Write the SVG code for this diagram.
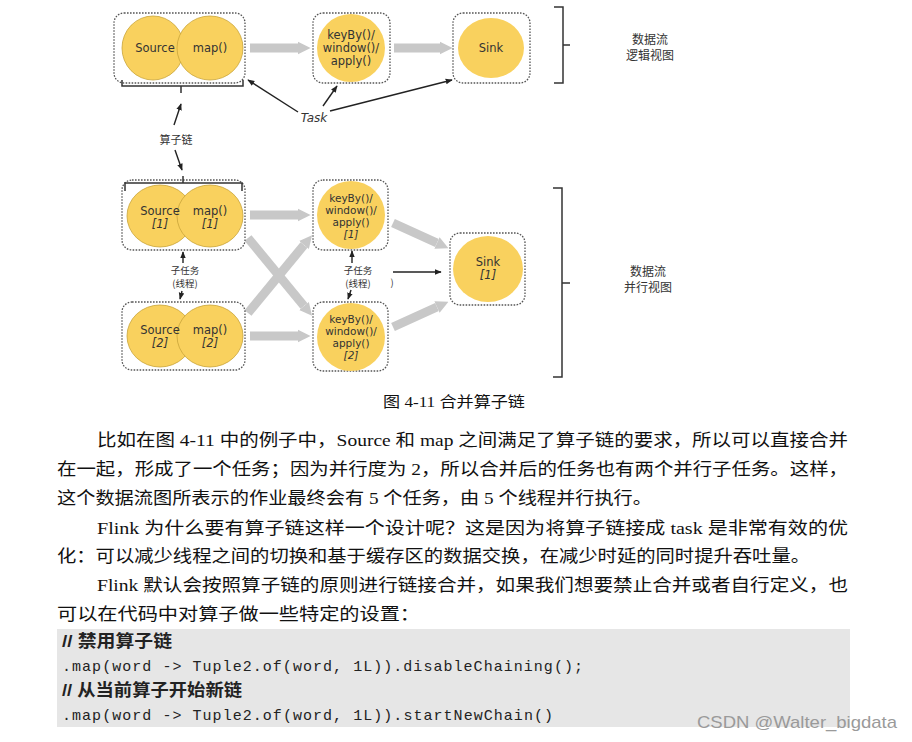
<svg xmlns="http://www.w3.org/2000/svg" width="912" height="742" viewBox="0 0 912 742">
<defs>
<style>
.box{fill:#fff;stroke:#555;stroke-width:1.3;stroke-dasharray:1.6 1.4}
.op{fill:#f9d15e;stroke:#c9a43a;stroke-width:0.8}
.opn{fill:#f9d15e;stroke:none}
.lbl{font-family:"DejaVu Sans",Verdana,sans-serif;font-size:11.5px;fill:#333;text-anchor:middle}
.kb{font-size:10.5px}
.it{font-style:italic}
.flow{stroke:#c8c8c8;stroke-width:9;fill:none;marker-end:url(#ga)}
.thin{stroke:#222;stroke-width:1.4;fill:none;marker-end:url(#ba)}
.br{stroke:#333;stroke-width:1.5;fill:none}
.cn{font-family:"Noto Sans CJK SC",sans-serif;font-size:9.5px;fill:#333;text-anchor:middle}
.side{font-family:"Noto Sans CJK SC",sans-serif;font-size:12px;fill:#333;text-anchor:middle}
.para{font-family:"Liberation Serif","Noto Sans CJK SC",serif;font-size:17.5px;fill:#111}
.code{font-family:"Liberation Mono",monospace;font-size:15px;fill:#222}
.cmt{font-family:"Liberation Sans","Noto Sans CJK SC",sans-serif;font-size:17px;font-weight:600;fill:#222}
</style>
<marker id="ga" viewBox="0 0 10 10" refX="0" refY="5" markerWidth="1.4" markerHeight="2" orient="auto"><path d="M0,0 L10,5 L0,10 z" fill="#c8c8c8"/></marker>
<marker id="ba" viewBox="0 0 10 10" refX="9" refY="5" markerWidth="5" markerHeight="5" orient="auto"><path d="M0,1 L10,5 L0,9 z" fill="#222"/></marker>
</defs>

<g id="connectors">
<line class="flow" x1="250" y1="48" x2="298" y2="48"/>
<line class="flow" x1="394" y1="48" x2="440" y2="48"/>
<line class="flow" x1="250" y1="215" x2="298" y2="215"/>
<line class="flow" x1="250" y1="336" x2="298" y2="336"/>
<line class="flow" x1="248" y1="238" x2="304" y2="306"/>
<line class="flow" x1="248" y1="313" x2="304" y2="245"/>
<line class="flow" x1="393" y1="223" x2="437" y2="243"/>
<line class="flow" x1="393" y1="327" x2="437" y2="307"/>
<line class="thin" x1="298" y1="112" x2="248" y2="80"/>
<line class="thin" x1="323" y1="106" x2="337" y2="86"/>
<line class="thin" x1="330" y1="111" x2="452" y2="80"/>
<line class="thin" x1="174" y1="125" x2="181" y2="104"/>
<line class="thin" x1="175" y1="150" x2="182" y2="170"/>
<line class="thin" x1="183" y1="263" x2="183" y2="252"/>
<line class="thin" x1="182" y1="291" x2="180" y2="299"/>
<line class="thin" x1="352" y1="263" x2="352" y2="251"/>
<line class="thin" x1="351" y1="290" x2="348" y2="299"/>
<line class="thin" x1="393" y1="272" x2="441" y2="272"/>
</g>

<g id="chain-logical">
<rect class="box" x="114" y="13" width="131" height="70" rx="10"/>
<ellipse class="op" cx="153" cy="48" rx="31" ry="32"/>
<ellipse class="op" cx="210" cy="48" rx="33" ry="32"/>
<text class="lbl" x="155" y="52">Source</text>
<text class="lbl" x="210" y="52">map()</text>
<path class="br" d="M122,80 V86 H243 V80 M181,86 V93"/>
</g>

<g id="window-logical">
<rect class="box" x="313" y="13" width="77" height="70" rx="10"/>
<ellipse class="opn" cx="351" cy="48" rx="34" ry="34"/>
<text class="lbl" x="351" y="39">keyBy()/</text>
<text class="lbl" x="351" y="52">window()/</text>
<text class="lbl" x="351" y="65">apply()</text>
</g>

<g id="sink-logical">
<rect class="box" x="453" y="13" width="77" height="70" rx="10"/>
<ellipse class="opn" cx="491" cy="48" rx="33" ry="30"/>
<text class="lbl" x="491" y="52">Sink</text>
</g>

<g id="task-label">
<text class="lbl it" x="314" y="122" style="font-size:12px">Task</text>
</g>
<g id="chain-label">
<text class="cn" x="176" y="144" style="font-size:11px">算子链</text>
</g>

<g id="logical-brace">
<path class="br" d="M554,7 H563 V83 H554 M563,45 H570"/>
<text class="side" x="650" y="44">数据流</text>
<text class="side" x="650" y="60">逻辑视图</text>
</g>

<g id="chain-1">
<rect class="box" x="122" y="180" width="123" height="70" rx="10"/>
<ellipse class="op" cx="160" cy="216" rx="33" ry="31"/>
<ellipse class="op" cx="210" cy="216" rx="33" ry="31"/>
<text class="lbl" x="160" y="215">Source</text>
<text class="lbl it" x="160" y="228">[1]</text>
<text class="lbl" x="210" y="215">map()</text>
<text class="lbl it" x="210" y="228">[1]</text>
<path class="br" d="M125,191 V183 H242 V191 M183,183 V176"/>
</g>

<g id="chain-2">
<rect class="box" x="122" y="302" width="123" height="68" rx="10"/>
<ellipse class="op" cx="160" cy="336" rx="33" ry="31"/>
<ellipse class="op" cx="210" cy="336" rx="33" ry="31"/>
<text class="lbl" x="160" y="334">Source</text>
<text class="lbl it" x="160" y="347">[2]</text>
<text class="lbl" x="210" y="334">map()</text>
<text class="lbl it" x="210" y="347">[2]</text>
</g>

<g id="window-1">
<rect class="box" x="313" y="180" width="75" height="70" rx="10"/>
<ellipse class="opn" cx="351" cy="215" rx="34" ry="34"/>
<text class="lbl kb" x="351" y="202">keyBy()/</text>
<text class="lbl kb" x="351" y="214">window()/</text>
<text class="lbl kb" x="351" y="226">apply()</text>
<text class="lbl kb it" x="351" y="238">[1]</text>
</g>

<g id="window-2">
<rect class="box" x="313" y="302" width="75" height="69" rx="10"/>
<ellipse class="opn" cx="351" cy="337" rx="34" ry="34"/>
<text class="lbl kb" x="351" y="323">keyBy()/</text>
<text class="lbl kb" x="351" y="335">window()/</text>
<text class="lbl kb" x="351" y="347">apply()</text>
<text class="lbl kb it" x="351" y="359">[2]</text>
</g>

<g id="sink-1">
<rect class="box" x="450" y="233" width="75" height="72" rx="10"/>
<ellipse class="opn" cx="488" cy="269" rx="35" ry="33"/>
<text class="lbl" x="488" y="266">Sink</text>
<text class="lbl it" x="488" y="279">[1]</text>
</g>

<g id="subtask-labels">
<text class="cn" x="185" y="274">子任务</text>
<text class="cn" x="185" y="287">(线程)</text>
<text class="cn" x="358" y="274">子任务</text>
<text class="cn" x="358" y="287">(线程)</text>
<text class="cn" x="392" y="286">)</text>
</g>

<g id="parallel-brace">
<path class="br" d="M553,188 H562 V377 H553 M562,283 H570"/>
<text class="side" x="648" y="276">数据流</text>
<text class="side" x="648" y="292">并行视图</text>
</g>

<text class="para" x="383" y="407" textLength="142" lengthAdjust="spacingAndGlyphs" style="font-size:15px">图 4-11  合并算子链</text>

<g id="paragraphs">
<text class="para" x="97" y="446" textLength="751" lengthAdjust="spacingAndGlyphs">比如在图 4-11 中的例子中，Source 和 map 之间满足了算子链的要求，所以可以直接合并</text>
<text class="para" x="57" y="475" textLength="791" lengthAdjust="spacingAndGlyphs">在一起，形成了一个任务；因为并行度为 2，所以合并后的任务也有两个并行子任务。这样，</text>
<text class="para" x="57" y="504" textLength="595" lengthAdjust="spacingAndGlyphs">这个数据流图所表示的作业最终会有 5 个任务，由 5 个线程并行执行。</text>
<text class="para" x="97" y="534" textLength="751" lengthAdjust="spacingAndGlyphs">Flink 为什么要有算子链这样一个设计呢？这是因为将算子链接成 task 是非常有效的优</text>
<text class="para" x="57" y="562" textLength="753" lengthAdjust="spacingAndGlyphs">化：可以减少线程之间的切换和基于缓存区的数据交换，在减少时延的同时提升吞吐量。</text>
<text class="para" x="97" y="591" textLength="751" lengthAdjust="spacingAndGlyphs">Flink 默认会按照算子链的原则进行链接合并，如果我们想要禁止合并或者自行定义，也</text>
<text class="para" x="57" y="620" textLength="363" lengthAdjust="spacingAndGlyphs">可以在代码中对算子做一些特定的设置：</text>
</g>

<g id="code">
<rect x="57" y="629" width="793" height="98" fill="#e6e6e6"/>
<text class="cmt" x="62" y="647" textLength="110" lengthAdjust="spacingAndGlyphs">// 禁用算子链</text>
<text class="code" x="62" y="671" textLength="521" lengthAdjust="spacing">.map(word -&gt; Tuple2.of(word, 1L)).disableChaining();</text>
<text class="cmt" x="62" y="696" textLength="180" lengthAdjust="spacingAndGlyphs">// 从当前算子开始新链</text>
<text class="code" x="62" y="720" textLength="491" lengthAdjust="spacing">.map(word -&gt; Tuple2.of(word, 1L)).startNewChain()</text>
</g>

<text x="697" y="728" textLength="200" lengthAdjust="spacingAndGlyphs" style="font-family:'Liberation Sans',sans-serif;font-size:17px;fill:#9a9a9a">CSDN @Walter_bigdata</text>
</svg>
